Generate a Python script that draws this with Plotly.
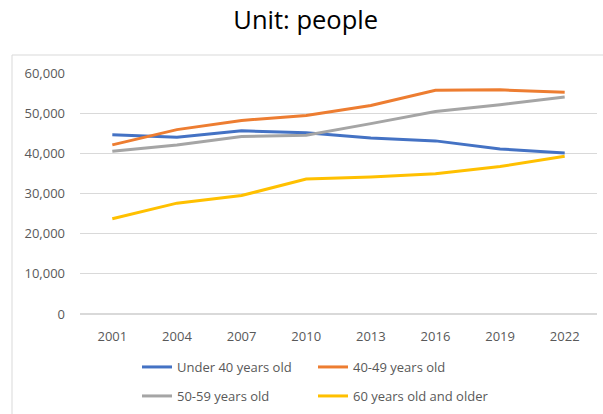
import plotly.graph_objects as go

years = ["2001", "2004", "2007", "2010", "2013", "2016", "2019", "2022"]
under40 = [44600, 44000, 45600, 45100, 43800, 43100, 41100, 40100]
age40_49 = [42100, 45900, 48200, 49400, 51900, 55700, 55800, 55200]
age50_59 = [40500, 42100, 44200, 44500, 47400, 50400, 52100, 54000]
age60plus = [23700, 27600, 29500, 33600, 34100, 34900, 36700, 39300]

series = [
    ("Under 40 years old", under40, "#4472C4", "legend"),
    ("40-49 years old", age40_49, "#ED7D31", "legend"),
    ("50-59 years old", age50_59, "#A5A5A5", "legend2"),
    ("60 years old and older", age60plus, "#FFC000", "legend2"),
]

fig = go.Figure()
for name, vals, color, lg in series:
    fig.add_trace(go.Scatter(x=years, y=vals, name=name, mode="lines", legend=lg,
                             line=dict(color=color, width=3)))

W, H = 603, 414
L, R, T, B = 80, 6, 73, 100
pw, ph = W - L - R, H - T - B
base = T + ph

leg_common = dict(orientation="h", xanchor="left", yanchor="middle",
                  font=dict(size=13, color="#595959"), entrywidth=131,
                  entrywidthmode="pixels", bgcolor="rgba(0,0,0,0)")

fig.update_layout(
    width=W, height=H,
    margin=dict(l=L, r=R, t=T, b=B, autoexpand=False),
    paper_bgcolor="white", plot_bgcolor="white",
    font=dict(family="Open Sans, Liberation Sans, sans-serif", size=13, color="#595959"),
    title=dict(text="Unit: people", x=0.507, xanchor="center", y=1 - 20 / H, yanchor="middle",
               font=dict(size=25.5, color="#000000", family="Open Sans, sans-serif")),
    xaxis=dict(type="category", range=[-0.5, 7.5], showgrid=False, zeroline=False,
               showline=False, ticks="", tickfont=dict(size=13, color="#595959"),
               ticklabelstandoff=13, automargin=False),
    yaxis=dict(range=[0, 60000], dtick=10000, tickformat=",", showgrid=True,
               gridcolor="#D9D9D9", gridwidth=1, zeroline=True, zerolinecolor="#D9D9D9",
               showline=False, ticks="", tickfont=dict(size=13, color="#595959"),
               ticklabelstandoff=14, automargin=False),
    legend=dict(x=(137 - L) / pw, y=(base - 367) / ph, **leg_common),
    legend2=dict(x=(137 - L) / pw, y=(base - 396) / ph, **leg_common),
    showlegend=True,
)

# chart border (Excel-like chart area frame)
fig.add_shape(type="line", xref="paper", yref="paper",
              x0=(12 - L) / pw, x1=(W - L) / pw, y0=(base - 55) / ph, y1=(base - 55) / ph,
              line=dict(color="#D9D9D9", width=1))
fig.add_shape(type="line", xref="paper", yref="paper",
              x0=(12 - L) / pw, x1=(12 - L) / pw, y0=(base - 55) / ph, y1=(base - 430) / ph,
              line=dict(color="#D9D9D9", width=1))

fig.write_html("out.html")
